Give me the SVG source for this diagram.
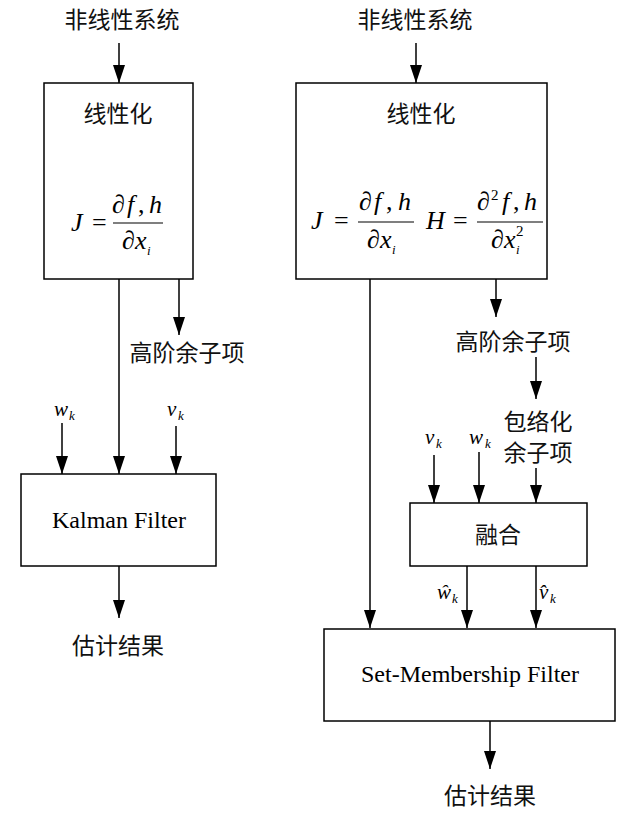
<svg xmlns="http://www.w3.org/2000/svg" width="617" height="813" viewBox="0 0 617 813">
<defs>
<marker id="ah" markerUnits="userSpaceOnUse" markerWidth="18" markerHeight="12" refX="18" refY="6" orient="auto">
<path d="M0,0 L18,6 L0,12 z" fill="#000"/>
</marker>
<style>
.box{fill:#fff;stroke:#000;stroke-width:1.5}
.arr{stroke:#000;stroke-width:1.5;fill:none;marker-end:url(#ah)}
.cjk{font-family:"Liberation Serif","Noto Sans CJK SC",serif;font-size:23px;fill:#111;text-anchor:middle}
.en{font-family:"Liberation Serif",serif;font-size:24px;fill:#000;text-anchor:middle}
.m{font-family:"Liberation Serif",serif;font-size:26px;font-style:italic;fill:#000}
.mu{font-family:"Liberation Serif",serif;font-size:26px;fill:#000}
.sub{font-family:"Liberation Serif",serif;font-size:13px;font-style:italic;fill:#000}
.sup{font-family:"Liberation Serif",serif;font-size:15px;fill:#000}
.v{font-family:"Liberation Serif",serif;font-size:21px;font-style:italic;fill:#000}
.frac{stroke:#000;stroke-width:1.2}
</style>
</defs>

<g id="connectors">
<line class="arr" x1="119" y1="43" x2="119" y2="83"/>
<line class="arr" x1="119" y1="128" x2="119" y2="188"/>
<line class="arr" x1="119" y1="279" x2="119" y2="474"/>
<line class="arr" x1="179" y1="279" x2="179" y2="335"/>
<line class="arr" x1="62" y1="423" x2="62" y2="474"/>
<line class="arr" x1="176" y1="426" x2="176" y2="474"/>
<line class="arr" x1="119" y1="566" x2="119" y2="618"/>

<line class="arr" x1="416" y1="43" x2="416" y2="83"/>
<line class="arr" x1="422" y1="135" x2="422" y2="192"/>
<line class="arr" x1="370" y1="279" x2="370" y2="628"/>
<line class="arr" x1="496" y1="279" x2="496" y2="317"/>
<line class="arr" x1="536" y1="357" x2="536" y2="399"/>
<line class="arr" x1="434" y1="455" x2="434" y2="503"/>
<line class="arr" x1="479" y1="452" x2="479" y2="503"/>
<line class="arr" x1="536" y1="468" x2="536" y2="503"/>
<line class="arr" x1="467" y1="566" x2="467" y2="628"/>
<line class="arr" x1="536" y1="566" x2="536" y2="628"/>
<line class="arr" x1="490" y1="721" x2="490" y2="769"/>
</g>

<g id="left-input">
<text class="cjk" x="122" y="28">非线性系统</text>
</g>

<g id="left-linearize">
<rect class="box" x="44" y="83" width="149" height="196"/>
<text class="cjk" x="118" y="122">线性化</text>
<text class="m" x="71" y="231">J</text>
<text class="mu" x="92" y="231">=</text>
<line class="frac" x1="113" y1="223" x2="163" y2="223"/>
<text class="mu" x="112" y="213">∂</text>
<text class="m" x="127" y="213">f</text>
<text class="mu" x="138" y="213">,</text>
<text class="m" x="149" y="213">h</text>
<text class="mu" x="122" y="249">∂</text>
<text class="m" x="135" y="249">x</text>
<text class="sub" x="147" y="255">i</text>
</g>

<g id="left-remainder">
<text class="cjk" x="187" y="361">高阶余子项</text>
</g>

<g id="left-noise">
<text class="v" x="54" y="416">w</text>
<text class="sub" x="69" y="420">k</text>
<text class="v" x="167" y="416">v</text>
<text class="sub" x="178" y="420">k</text>
</g>

<g id="kalman">
<rect class="box" x="21" y="474" width="195" height="92"/>
<text class="en" x="119" y="528">Kalman Filter</text>
</g>

<g id="left-output">
<text class="cjk" x="118" y="654">估计结果</text>
</g>

<g id="right-input">
<text class="cjk" x="415" y="28">非线性系统</text>
</g>

<g id="right-linearize">
<rect class="box" x="296" y="83" width="251" height="196"/>
<text class="cjk" x="421" y="122">线性化</text>
<text class="m" x="311" y="229">J</text>
<text class="mu" x="334" y="229">=</text>
<line class="frac" x1="358" y1="222" x2="414" y2="222"/>
<text class="mu" x="359" y="210">∂</text>
<text class="m" x="374" y="210">f</text>
<text class="mu" x="386" y="210">,</text>
<text class="m" x="398" y="210">h</text>
<text class="mu" x="367" y="248">∂</text>
<text class="m" x="380" y="248">x</text>
<text class="sub" x="392" y="254">i</text>
<text class="m" x="426" y="229">H</text>
<text class="mu" x="453" y="229">=</text>
<line class="frac" x1="477" y1="222" x2="543" y2="222"/>
<text class="mu" x="477" y="210">∂</text>
<text class="sup" x="491" y="200">2</text>
<text class="m" x="502" y="210">f</text>
<text class="mu" x="513" y="210">,</text>
<text class="m" x="524" y="210">h</text>
<text class="mu" x="491" y="248">∂</text>
<text class="m" x="504" y="248">x</text>
<text class="sub" x="516" y="254">i</text>
<text class="sup" x="516" y="236">2</text>
</g>

<g id="right-remainder">
<text class="cjk" x="513" y="350">高阶余子项</text>
</g>

<g id="envelope">
<text class="cjk" x="538" y="430">包络化</text>
<text class="cjk" x="538" y="461">余子项</text>
</g>

<g id="right-noise">
<text class="v" x="425" y="444">v</text>
<text class="sub" x="436" y="448">k</text>
<text class="v" x="469" y="444">w</text>
<text class="sub" x="485" y="448">k</text>
</g>

<g id="fusion">
<rect class="box" x="410" y="503" width="177" height="63"/>
<text class="cjk" x="498" y="543">融合</text>
</g>

<g id="estimates">
<text class="v" x="437" y="599">ŵ</text>
<text class="sub" x="452" y="603">k</text>
<text class="v" x="539" y="599">v̂</text>
<text class="sub" x="550" y="603">k</text>
</g>

<g id="set-membership">
<rect class="box" x="324" y="629" width="291" height="92"/>
<text class="en" x="470" y="682">Set-Membership Filter</text>
</g>

<g id="right-output">
<text class="cjk" x="490" y="804">估计结果</text>
</g>
</svg>
